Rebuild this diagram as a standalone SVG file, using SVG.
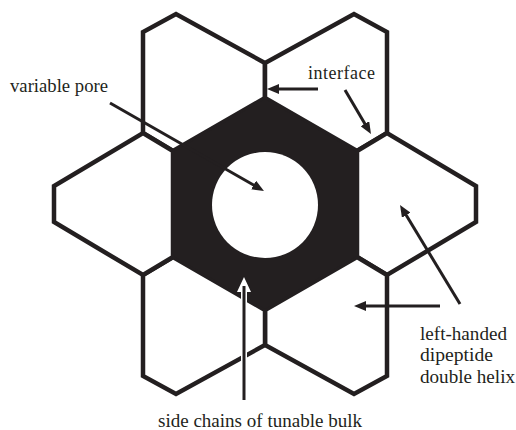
<svg xmlns="http://www.w3.org/2000/svg" width="516" height="430" viewBox="0 0 516 430">
  <style>
    .hex { fill: #ffffff; stroke: #231f20; stroke-width: 4.5; stroke-linejoin: miter; }
    .core { fill: #231f20; stroke: #231f20; stroke-width: 2; }
    .pore { fill: #ffffff; }
    .arr { fill: none; stroke: #231f20; stroke-width: 3; marker-end: url(#ah); }
    .lbl { font-family: "Liberation Serif", "Times New Roman", serif; font-size: 18px; fill: #231f20; }
  </style>
  <defs>
    <marker id="ah" markerWidth="12" markerHeight="10" refX="2" refY="5" orient="auto" markerUnits="userSpaceOnUse">
      <path d="M0,0 L12,5 L0,10 z" fill="#231f20"/>
    </marker>
  </defs>
  <rect width="516" height="430" fill="#ffffff"/>

  <g id="hex-top-left"><polygon class="hex" points="265,98 265,63 176,14 143,32 143,133 173,151"/></g>
  <g id="hex-top-right"><polygon class="hex" points="265,98 265,63 354,14 387,32 387,133 357,151"/></g>
  <g id="hex-right"><polygon class="hex" points="357,151 387,133 476,186 476,222 387,275 357,257"/></g>
  <g id="hex-bottom-right"><polygon class="hex" points="357,257 387,275 387,376 354,394 265,345 265,310"/></g>
  <g id="hex-bottom-left"><polygon class="hex" points="265,310 265,345 176,394 143,376 143,275 173,257"/></g>
  <g id="hex-left"><polygon class="hex" points="173,257 143,275 54,222 54,186 143,133 173,151"/></g>

  <g id="core">
    <polygon class="core" points="265,98 357,151 357,257 265,310 173,257 173,151"/>
    <circle class="pore" cx="265" cy="205" r="53"/>
  </g>

  <g id="connectors">
    <line class="arr" x1="110" y1="103" x2="255.3" y2="186"/>
    <line class="arr" x1="318" y1="89" x2="277" y2="89"/>
    <line class="arr" x1="345" y1="90" x2="365.9" y2="125.4"/>
    <line class="arr" x1="460" y1="304" x2="405.2" y2="213.5"/>
    <line class="arr" x1="440" y1="306" x2="364" y2="306"/>
    <g id="side-chain-arrow">
      <line x1="244" y1="400" x2="244" y2="290" stroke="#ffffff" stroke-width="6"/>
      <polygon points="244,277 251,292 237,292" fill="#ffffff"/>
      <line x1="244" y1="400" x2="244" y2="286" stroke="#231f20" stroke-width="3"/>
    </g>
  </g>

  <g id="labels">
    <text class="lbl" x="10" y="92" textLength="98" lengthAdjust="spacingAndGlyphs">variable pore</text>
    <text class="lbl" x="308" y="79" textLength="67" lengthAdjust="spacing">interface</text>
    <text class="lbl" x="420" y="340" textLength="87" lengthAdjust="spacingAndGlyphs">left-handed</text>
    <text class="lbl" x="420" y="361" textLength="73" lengthAdjust="spacingAndGlyphs">dipeptide</text>
    <text class="lbl" x="420" y="383" textLength="95" lengthAdjust="spacingAndGlyphs">double helix</text>
    <text class="lbl" x="158" y="427" textLength="204" lengthAdjust="spacingAndGlyphs">side chains of tunable bulk</text>
  </g>
</svg>
